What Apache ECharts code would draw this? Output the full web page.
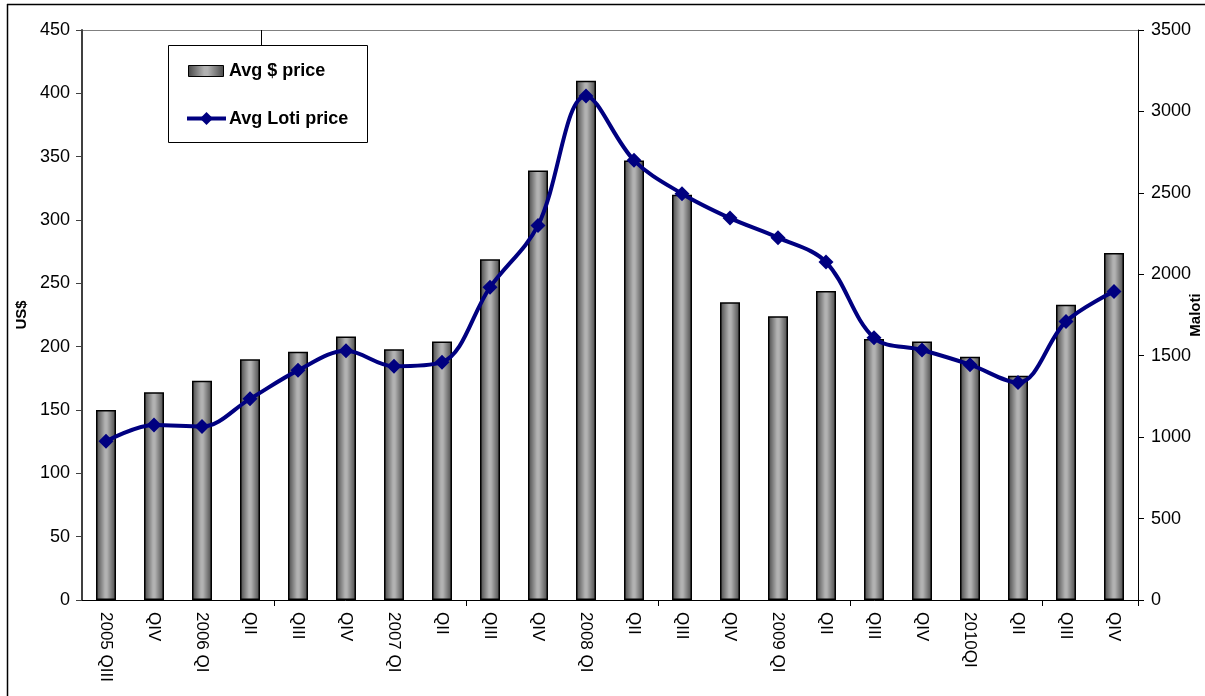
<!DOCTYPE html>
<html>
<head>
<meta charset="utf-8">
<script src="https://cdn.jsdelivr.net/npm/echarts@6/dist/echarts.min.js"></script>
<style>
  html, body { margin: 0; padding: 0; background: #fff; }
  #chart { width: 1205px; height: 696px; }
</style>
</head>
<body>
<div id="chart"></div>
<script>
// Quarterly average prices, 2005 QIII to 2010 QIV
const quarters = ['2005 QIII', 'QIV', '2006 QI', 'QII', 'QIII', 'QIV', '2007 QI', 'QII', 'QIII', 'QIV',
  '2008 QI', 'QII', 'QIII', 'QIV', '2009 QI', 'QII', 'QIII', 'QIV', '2010QI', 'QII', 'QIII', 'QIV'];
const avgUsdPrice = [150, 164, 173, 190, 196, 208, 198, 204, 269, 339, 410, 347, 320, 235, 224, 244, 206, 204, 192, 177, 233, 274];
const avgLotiPrice = [975, 1075, 1065, 1235, 1410, 1530, 1435, 1460, 1920, 2300, 3095, 2700, 2495, 2345, 2225, 2075, 1610, 1535, 1445, 1335, 1710, 1895];
const usdTicks = { min: 0, max: 450, interval: 50 };
const lotiTicks = { min: 0, max: 3500, interval: 500 };

const chart = echarts.init(document.getElementById('chart'));
const font = 'Arial, "Liberation Sans", sans-serif';

const barFill = new echarts.graphic.LinearGradient(0, 0, 1, 0, [
  { offset: 0, color: '#464646' },
  { offset: 0.45, color: '#b2b2b2' },
  { offset: 0.55, color: '#b2b2b2' },
  { offset: 1, color: '#464646' }
]);

chart.setOption({
  animation: false,
  backgroundColor: '#fff',
  grid: { left: 82, right: 67, top: 30, bottom: 96, show: false, containLabel: false, outerBoundsMode: 'none' },
  xAxis: {
    type: 'category',
    data: quarters,
    axisLine: { lineStyle: { color: '#000', width: 1 } },
    // a tick mark at the start of every fourth quarter
    axisTick: { show: true, interval: (i) => i > 0 && i % 4 === 0, length: 6, lineStyle: { color: '#000' } },
    axisLabel: { rotate: -90, interval: 0, color: '#000', fontSize: 17, fontFamily: font, margin: 12 }
  },
  yAxis: [
    {
      type: 'value', min: usdTicks.min, max: usdTicks.max, interval: usdTicks.interval,
      name: 'US$', nameLocation: 'middle', nameGap: 53, nameRotate: 90, nameMoveOverlap: false,
      nameTextStyle: { color: '#000', fontSize: 15, fontWeight: 'bold', fontFamily: font },
      axisLine: { show: true, lineStyle: { color: '#404040', width: 2 } },
      axisTick: { show: true, length: 6, lineStyle: { color: '#404040' } },
      axisLabel: { color: '#000', fontSize: 18, fontFamily: font, margin: 12 },
      splitLine: { show: false }
    },
    {
      type: 'value', min: lotiTicks.min, max: lotiTicks.max, interval: lotiTicks.interval,
      position: 'right',
      name: 'Maloti', nameLocation: 'middle', nameGap: 50, nameRotate: 90, nameMoveOverlap: false,
      nameTextStyle: { color: '#000', fontSize: 15, fontWeight: 'bold', fontFamily: font },
      axisLine: { show: true, lineStyle: { color: '#000', width: 1 } },
      axisTick: { show: true, length: 6, lineStyle: { color: '#000' } },
      axisLabel: { color: '#000', fontSize: 18, fontFamily: font, margin: 13, formatter: (v) => String(v) },
      splitLine: { show: false }
    }
  ],
  series: [
    {
      name: 'Avg $ price',
      type: 'bar',
      yAxisIndex: 0,
      data: avgUsdPrice,
      barWidth: 20,
      itemStyle: { color: barFill, borderColor: '#000', borderWidth: 1.5 }
    },
    {
      name: 'Avg Loti price',
      type: 'line',
      yAxisIndex: 1,
      data: avgLotiPrice,
      smooth: 0.35,
      symbol: 'diamond',
      symbolSize: 15,
      lineStyle: { color: '#000080', width: 4 },
      itemStyle: { color: '#000080' },
      z: 5
    }
  ],
  graphic: [
    // outer frame (top and left edges)
    { type: 'line', shape: { x1: 7, y1: 4.5, x2: 1205, y2: 4.5 }, style: { stroke: '#000', lineWidth: 1.5 } },
    { type: 'line', shape: { x1: 7.5, y1: 4, x2: 7.5, y2: 696 }, style: { stroke: '#000', lineWidth: 1.5 } },
    // plot area top edge
    { type: 'line', shape: { x1: 82, y1: 30.5, x2: 1138, y2: 30.5 }, style: { stroke: '#808080', lineWidth: 1 } },
    // legend box with its leader line
    { type: 'line', shape: { x1: 261.5, y1: 30, x2: 261.5, y2: 45 }, style: { stroke: '#000', lineWidth: 1 } },
    { type: 'rect', shape: { x: 168.5, y: 45.5, width: 199, height: 97 }, style: { fill: '#fff', stroke: '#000', lineWidth: 1 }, z: 10 },
    { type: 'rect', shape: { x: 188.5, y: 65.5, width: 35, height: 11 }, style: { fill: barFill, stroke: '#000', lineWidth: 1 }, z: 11 },
    { type: 'text', x: 229, y: 71, style: { text: 'Avg $ price', font: 'bold 18px ' + font, fill: '#000', textVerticalAlign: 'middle' }, z: 11 },
    { type: 'line', shape: { x1: 187, y1: 118.5, x2: 226, y2: 118.5 }, style: { stroke: '#000080', lineWidth: 4 }, z: 11 },
    { type: 'polygon', shape: { points: [[206.5, 112], [213, 118.5], [206.5, 125], [200, 118.5]] }, style: { fill: '#000080' }, z: 12 },
    { type: 'text', x: 229, y: 119, style: { text: 'Avg Loti price', font: 'bold 18px ' + font, fill: '#000', textVerticalAlign: 'middle' }, z: 11 }
  ]
});
</script>
</body>
</html>
